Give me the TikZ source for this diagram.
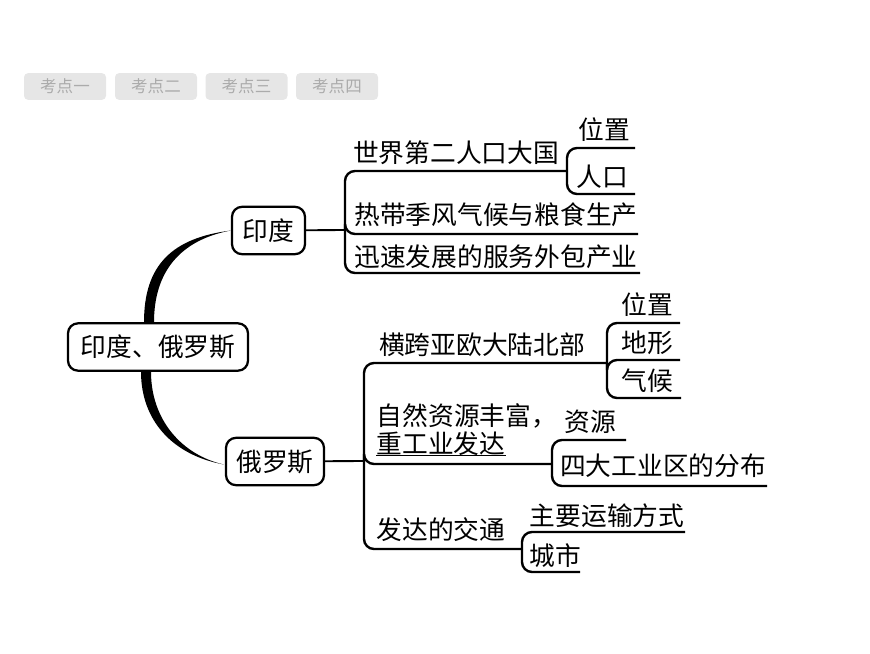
\documentclass[tikz,border=0pt]{standalone}
\usepackage{fontspec}
\setmainfont{Noto Sans CJK SC}
\usetikzlibrary{calc}
\definecolor{tabfill}{HTML}{E6E6E6}
\definecolor{tabtext}{HTML}{ABABAB}
\tikzset{
tabbox/.style={fill=tabfill, rounded corners=3pt, minimum width=61.5pt, minimum height=20pt, inner sep=0pt, text=tabtext, font=\fontsize{12.4pt}{14pt}\selectfont}, % the grey buttons on top
topic/.style={draw, line width=1.7pt, rounded corners=7.5pt, fill=white, minimum height=35.5pt, inner sep=0pt, font=\fontsize{19.3pt}{22pt}\selectfont}, % the framed nodes
leaf/.style={inner sep=0pt, font=\fontsize{19.3pt}{22pt}\selectfont}, % text on a line
branch/.style={line width=1.8pt, rounded corners=7.5pt}, % underlines and brackets
}

\begin{document}
\begin{tikzpicture}[x=0.75pt, y=-0.75pt]
    \useasboundingbox (0,0) rectangle (870,653);
    % buttons
    \node[tabbox] (tabA) at (65,86.5) {考点一};
    \node[tabbox] (tabB) at (156,86.5) {考点二};
    \node[tabbox] (tabC) at (246.5,86.5) {考点三};
    \node[tabbox] (tabD) at (337,86.5) {考点四};
    % framed nodes
    \node[topic, minimum width=135pt] (root) at (158,347) {印度、俄罗斯};
    \node[topic, minimum width=54.75pt] (india) at (268.5,230.5) {印度};
    \node[topic, minimum width=73.5pt] (russia) at (275,461.5) {俄罗斯};
    % india
    \node[leaf] (popTitle) at (456,153) {世界第二人口大国};
    \node[leaf] (popPlace) at (604,130) {位置};
    \node[leaf] (popPeople) at (602,177) {人口};
    \node[leaf] (climate) at (496,215) {热带季风气候与粮食生产};
    \node[leaf] (service) at (496,257) {迅速发展的服务外包产业};
    % russia
    \node[leaf] (span) at (482,345) {横跨亚欧大陆北部};
    \node[leaf] (spanPlace) at (647,305) {位置};
    \node[leaf] (spanLand) at (647,343) {地形};
    \node[leaf] (spanAir) at (647,381) {气候};
    \node[leaf] (richA) at (467,416) {自然资源丰富，};
    \node[leaf] (richB) at (441,444) {重工业发达};
    \node[leaf] (richRes) at (590,422) {资源};
    \node[leaf] (richArea) at (663,466) {四大工业区的分布};
    \node[leaf] (traffic) at (441,530) {发达的交通};
    \node[leaf] (trafficWay) at (607,516) {主要运输方式};
    \node[leaf] (trafficCity) at (555,556) {城市};
    % ends of the lines
    \coordinate (indJ) at (345,230);
    \coordinate (popEnd) at (567,171);
    \coordinate (popA) at (635,148);
    \coordinate (popB) at (635,194);
    \coordinate (climateEnd) at (638,234);
    \coordinate (serviceEnd) at (640,273);
    \coordinate (rusJ) at (364,461);
    \coordinate (spanEnd) at (607,363);
    \coordinate (spanA) at (680,323);
    \coordinate (spanB) at (680,360);
    \coordinate (spanC) at (681,398);
    \coordinate (richEnd) at (552,464);
    \coordinate (richC) at (626,440);
    \coordinate (richD) at (767,486);
    \coordinate (trafficEnd) at (522,549);
    \coordinate (trafficA) at (685,532);
    \coordinate (trafficB) at (580,572);
    % thick links
    \coordinate (upA) at ($(root.north)+(-14,0)$);
    \coordinate (upB) at ($(root.north)+(-4,0)$);
    \coordinate (lowA) at ($(root.south)+(-17,0)$);
    \coordinate (lowB) at ($(root.south)+(-7,0)$);
    \coordinate (lowEnd) at ($(russia.west)+(-1,3)$);
    \fill (upA) .. controls (144,265) and (172,238) .. (india.west)
      .. controls (180,240) and (154,272) .. (upB) -- cycle;
    \fill (lowA) .. controls (141,420) and (172,455) .. (lowEnd)
      .. controls (182,455) and (151,420) .. (lowB) -- cycle;
    % branches
    \draw[line width=1.4pt] (india) -- (indJ);
    \draw[line width=1.4pt] (russia) -- (rusJ);
    \draw[branch] (indJ) |- (popEnd);
    \draw[branch] (indJ) |- (climateEnd);
    \draw[branch] (indJ) |- (serviceEnd);
    \draw[branch] (popEnd) |- (popA);
    \draw[branch] (popEnd) |- (popB);
    \draw[branch] (rusJ) |- (spanEnd);
    \draw[branch] (rusJ) |- (richEnd);
    \draw[branch] (rusJ) |- (trafficEnd);
    \draw[branch] (spanEnd) |- (spanA);
    \draw[branch] (spanEnd) |- (spanB);
    \draw[branch] (spanEnd) |- (spanC);
    \draw[branch] (richEnd) |- (richC);
    \draw[branch] (richEnd) |- (richD);
    \draw[branch] (trafficEnd) |- (trafficA);
    \draw[branch] (trafficEnd) |- (trafficB);
    \draw[line width=0.6pt] ($(richB.west)+(0,11)$) -- ($(richB.east)+(0,11)$);
\end{tikzpicture}
\end{document}
